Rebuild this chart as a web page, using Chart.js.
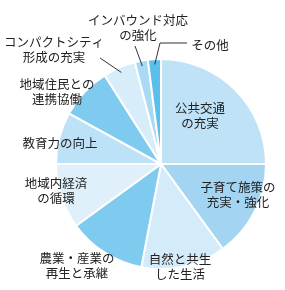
<!DOCTYPE html>
<html>
<head>
<meta charset="utf-8">
<script src="https://cdn.jsdelivr.net/npm/chart.js@4/dist/chart.umd.min.js"></script>
<style>
  body { margin: 0; background: #fff; }
  canvas { display: block; }
</style>
</head>
<body>
<canvas id="myChart" width="285" height="290"></canvas>
<script>
// données du camembert (sens horaire depuis midi)
const categories = [
  ["公共交通", "の充実"],
  ["子育て施策の", "充実・強化"],
  ["自然と共生", "した生活"],
  ["農業・産業の", "再生と承継"],
  ["地域内経済", "の循環"],
  ["教育力の向上"],
  ["地域住民との", "連携協働"],
  ["コンパクトシティ", "形成の充実"],
  ["インバウンド対応", "の強化"],
  ["その他"]
];
const values = [25, 15, 13, 12, 10, 8, 8, 5, 2, 2];

const colors = [
  "#bfe2f7", "#a3d5f2", "#d4ebf9", "#7fcbf0", "#dff0fb",
  "#bde1f7", "#7fcbf0", "#d8edfa", "#a9d9f3", "#5bbfec"
];

// position du texte par rapport au centre (dx, dy) - mise en page seulement
const labelOffsets = [
  [39, -48], [77, 31], [19, 103], [-84, 102], [-105, 27],
  [-101, -21], [-104, -72], [-107, -114], [-23, -136], [49, -119]
];
// traits de rappel : point de départ côté texte, relatif au centre
const leaders = {
  7: [[-61, -106]],
  8: [[-26, -118]],
  9: [[26, -121], [-1, -121]]
};

const labelPlugin = {
  id: "labels",
  afterDraw(chart) {
    const ctx = chart.ctx;
    const arcs = chart.getDatasetMeta(0).data;
    const p0 = arcs[0].getProps(["x", "y"], true);
    const cx = p0.x, cy = p0.y;
    ctx.save();
    // traits
    ctx.strokeStyle = "#333";
    ctx.lineWidth = 1;
    Object.keys(leaders).forEach(function (k) {
      const a = arcs[k].getProps(["startAngle", "endAngle", "outerRadius"], true);
      const mid = (a.startAngle + a.endAngle) / 2;
      const r = a.outerRadius * 0.95;
      ctx.beginPath();
      const pts = leaders[k];
      ctx.moveTo(cx + pts[0][0], cy + pts[0][1]);
      for (let i = 1; i < pts.length; i++) ctx.lineTo(cx + pts[i][0], cy + pts[i][1]);
      ctx.lineTo(cx + r * Math.cos(mid), cy + r * Math.sin(mid));
      ctx.stroke();
    });
    // textes
    ctx.fillStyle = "#222";
    ctx.font = '12.5px "Noto Sans CJK JP"';
    ctx.textAlign = "center";
    ctx.textBaseline = "middle";
    const lh = 15;
    categories.forEach(function (lines, i) {
      const x = cx + labelOffsets[i][0];
      const y0 = cy + labelOffsets[i][1] - (lines.length - 1) * lh / 2;
      lines.forEach(function (t, j) {
        ctx.fillText(t, x, y0 + j * lh);
      });
    });
    ctx.restore();
  }
};

const config = {
  type: "pie",
  data: {
    labels: categories.map(function (l) { return l.join(""); }),
    datasets: [{
      data: values,
      backgroundColor: colors,
      borderColor: "#ffffff",
      borderWidth: 2
    }]
  },
  options: {
    responsive: false,
    animation: false,
    layout: { padding: { left: 55, right: 18, top: 58, bottom: 20 } },
    plugins: {
      legend: { display: false },
      tooltip: { enabled: false }
    }
  },
  plugins: [labelPlugin]
};

const context = document.getElementById("myChart").getContext("2d");
const chart = new Chart(context, config);
</script>
</body>
</html>
